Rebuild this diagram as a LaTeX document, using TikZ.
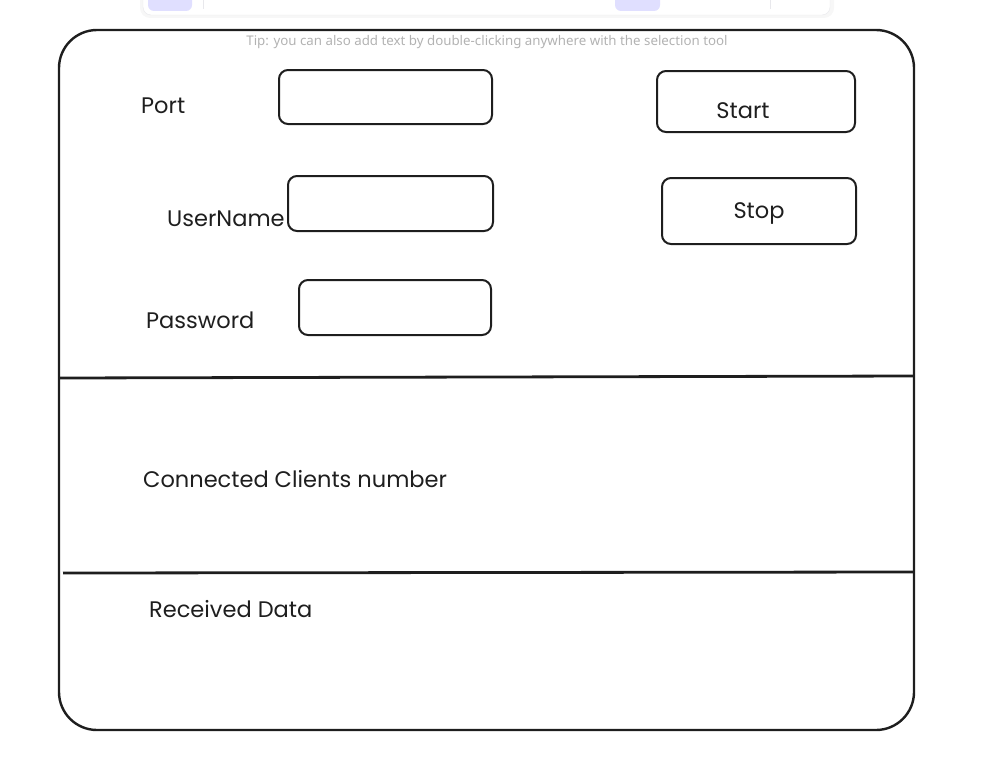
\documentclass[tikz,border=0pt]{standalone}
\usepackage{fontspec}
\usepackage{xcolor}
\usepackage{tikz}
\usetikzlibrary{positioning}
\setmainfont{Poppins}
\newfontfamily\tipfont{Noto Sans}
\definecolor{ink}{RGB}{30,30,30}
\definecolor{lavender}{RGB}{224,223,255}
\definecolor{tipgray}{RGB}{178,178,178}
\definecolor{barline}{RGB}{232,232,236}

\begin{document}
\begin{tikzpicture}[
  x=1pt, y=-1pt,
  frame/.style={draw=ink, line width=2.4pt, rounded corners=38pt},
  divider/.style={draw=ink, line width=2.8pt},
  field/.style={draw=ink, line width=2pt, rounded corners=9pt, inner sep=0pt},
  label/.style={anchor=west, inner sep=0pt, text=ink, font=\fontsize{22.5}{27}\selectfont},
  btntext/.style={label, anchor=center},
]
\useasboundingbox (0,0) rectangle (1008,776);
\clip (0,0) rectangle (1008,776);

% toolbar (cut off at the top)
\fill[black!3, rounded corners=10pt] (140,-20) rectangle (834,18);
\node[draw=barline, fill=white, rounded corners=8pt, minimum width=687pt,
      minimum height=40pt, inner sep=0pt] (bar) at (486.5,-5) {};
\fill[lavender, rounded corners=6pt] (148,-10) rectangle (192,11);
\fill[lavender, rounded corners=6pt] (615,-10) rectangle (660,11);
\draw[barline, line width=0.8pt] (203,0) -- (203,9);
\draw[barline, line width=0.8pt] (770,0) -- (770,9);

\node[text=tipgray, font=\tipfont\fontsize{13.3}{16}\selectfont] (tip) at (487,42)
  {Tip: you can also add text by double-clicking anywhere with the selection tool};

% window and sections
\draw[frame] (59,30) rectangle (914,730);
\draw[divider] (60,378) -- (914,376);
\draw[divider] (63,573) -- (914,572);

% input fields
\node[label] (port) at (141,106) {Port};
\node[field, minimum width=213pt, minimum height=54pt] (portbox) at (385.5,97) {};
\node[label] (user) at (167,219) {UserName};
\node[field, minimum width=205pt, minimum height=55pt] (userbox) at (390.5,203.5) {};
\node[label] (pass) at (146,320) {Password};
\node[field, minimum width=192pt, minimum height=55pt] (passbox) at (395,307.5) {};

% buttons
\node[field, minimum width=198pt, minimum height=61pt] (start) at (756,101.5) {};
\node[btntext] at ([xshift=-13pt, yshift=-9pt]start.center) {Start};
\node[field, minimum width=194pt, minimum height=66pt] (stop) at (759,211) {};
\node[btntext] at ([yshift=-2pt]stop.center) {Stop};

% lower sections
\node[label] (clients) at (143,479) {Connected Clients number};
\node[label] (data) at (149,609) {Received Data};
\end{tikzpicture}
\end{document}
